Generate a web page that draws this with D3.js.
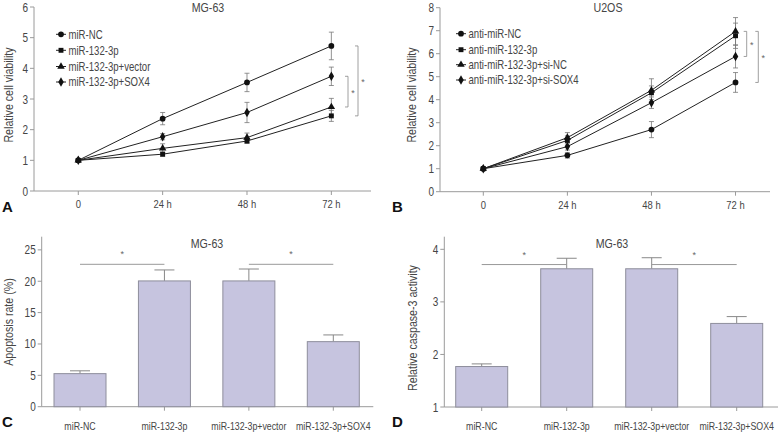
<!DOCTYPE html>
<html><head><meta charset="utf-8">
<script src="https://cdn.jsdelivr.net/npm/d3@7"></script>
<style>
body{margin:0;background:#fff;}
svg text{font-family:"Liberation Sans",Arial,sans-serif;}
</style></head>
<body><svg id="c" width="779" height="434"></svg>
<script>
// ---------- DATA ----------
const timeLabels = ["0","24 h","48 h","72 h"];
// Panel A (MG-63)
const seriesA = ["miR-NC","miR-132-3p","miR-132-3p+vector","miR-132-3p+SOX4"];
const valsA_NC     = [1.0, 2.36, 3.54, 4.73];
const errA_NC      = [0.04, 0.2, 0.3, 0.45];
const valsA_132    = [1.0, 1.2, 1.63, 2.45];
const errA_132     = [0.04, 0.07, 0.08, 0.18];
const valsA_vec    = [1.0, 1.39, 1.74, 2.74];
const errA_vec     = [0.04, 0.15, 0.15, 0.28];
const valsA_SOX4   = [1.0, 1.77, 2.56, 3.74];
const errA_SOX4    = [0.04, 0.1, 0.33, 0.3];
const yTicksA = [0,1,2,3,4,5,6];
// Panel B (U2OS)
const seriesB = ["anti-miR-NC","anti-miR-132-3p","anti-miR-132-3p+si-NC","anti-miR-132-3p+si-SOX4"];
const valsB_NC   = [1.0, 1.58, 2.7, 4.75];
const errB_NC    = [0.06, 0.12, 0.35, 0.43];
const valsB_132  = [1.0, 2.23, 4.3, 6.78];
const errB_132   = [0.06, 0.2, 0.3, 0.55];
const valsB_siNC = [1.0, 2.35, 4.41, 6.97];
const errB_siNC  = [0.06, 0.22, 0.5, 0.6];
const valsB_siS  = [1.0, 1.96, 3.87, 5.88];
const errB_siS   = [0.06, 0.15, 0.25, 0.5];
const yTicksB = [0,1,2,3,4,5,6,7,8];
// Panel C & D (MG-63 bars)
const barCats = ["miR-NC","miR-132-3p","miR-132-3p+vector","miR-132-3p+SOX4"];
const apoptosis    = [5.27, 20.05, 20.05, 10.37];
const apoptosisErr = [0.45, 1.75, 1.9, 1.07];
const yTicksC = [0,5,10,15,20,25];
const caspase    = [1.77, 3.63, 3.63, 2.59];
const caspaseErr = [0.05, 0.2, 0.21, 0.13];
const yTicksD = [1,2,3,4];

// ---------- DRAW ----------
const svg = d3.select("#c");
const axisCol = "#9a9a9a", textCol = "#454545", lineCol = "#222";
const SX = 0.8; // condensed look

// condensed text helper
function txt(g, x, y, t, size, anchor, rot){
  return g.append("text")
    .attr("transform",`translate(${x},${y})${rot?` rotate(${rot})`:""} scale(${SX},1)`)
    .attr("text-anchor",anchor||"start").attr("font-size",size).attr("fill",textCol).text(t);
}
function panelLetter(x, y, t){
  svg.append("text").attr("x",x).attr("y",y).text(t)
    .attr("font-size",15).attr("font-weight","bold").attr("fill","#111");
}
function yAxis(g, y, x0, ticks){
  g.append("line").attr("x1",x0).attr("x2",x0).attr("y1",y.range()[0]).attr("y2",y.range()[1])
    .attr("stroke",axisCol);
  ticks.forEach(t=>{
    g.append("line").attr("x1",x0-4).attr("x2",x0).attr("y1",y(t)).attr("y2",y(t)).attr("stroke",axisCol);
    txt(g, x0-6, y(t)+4.5, t, 12.5, "end");
  });
}
function yLabel(x, yc, t){
  txt(svg, x, yc, t, 13.3, "middle", -90);
}
function symbolFor(i){ return [d3.symbolCircle,d3.symbolSquare,d3.symbolTriangle,d3.symbolDiamond][i]; }
function symSize(i){ return [26,24,24,26][i]; }

function linePanel(cfg){
  const g = svg.append("g");
  const x = d3.scaleLinear().domain(cfg.xDom).range(cfg.xRange);
  const y = d3.scaleLinear().domain(cfg.yDom).range(cfg.yRange);
  g.append("line").attr("x1",cfg.xRange[0]).attr("x2",cfg.xRange[1]).attr("y1",cfg.yRange[0]).attr("y2",cfg.yRange[0]).attr("stroke",axisCol);
  timeLabels.forEach((t,i)=>{
    g.append("line").attr("x1",x(i)).attr("x2",x(i)).attr("y1",cfg.yRange[0]).attr("y2",cfg.yRange[0]+4).attr("stroke",axisCol);
    txt(g, x(i), cfg.yRange[0]+17, t, 11.8, "middle");
  });
  yAxis(g, y, cfg.xRange[0], cfg.yTicks);
  txt(g, cfg.titleX, 12, cfg.title, 13.3, "middle");
  const line = d3.line().x((d,i)=>x(i)).y(d=>y(d));
  cfg.series.forEach(s=>{
    s.v.forEach((v,i)=>{
      const e = s.e[i];
      g.append("line").attr("x1",x(i)).attr("x2",x(i)).attr("y1",y(v-e)).attr("y2",y(v+e)).attr("stroke","#777").attr("stroke-width",0.8);
      [v-e,v+e].forEach(w=>g.append("line").attr("x1",x(i)-2.5).attr("x2",x(i)+2.5).attr("y1",y(w)).attr("y2",y(w)).attr("stroke","#777").attr("stroke-width",0.8));
    });
  });
  cfg.series.forEach((s,si)=>{
    g.append("path").attr("d",line(s.v)).attr("fill","none").attr("stroke",lineCol).attr("stroke-width",1);
    s.v.forEach((v,i)=>{
      g.append("path").attr("d",d3.symbol().type(symbolFor(si)).size(symSize(si))())
        .attr("transform",`translate(${x(i)},${y(v)})`).attr("fill","#111");
    });
  });
  cfg.names.forEach((n,i)=>{
    const ly = cfg.legY[i];
    g.append("line").attr("x1",cfg.legX-5).attr("x2",cfg.legX+5).attr("y1",ly).attr("y2",ly).attr("stroke",lineCol);
    g.append("path").attr("d",d3.symbol().type(symbolFor(i)).size(symSize(i))())
      .attr("transform",`translate(${cfg.legX},${ly})`).attr("fill","#111");
    txt(g, cfg.legX+7.5, ly+4.3, n, 12, "start");
  });
  cfg.brackets.forEach(b=>{
    const y1=y(b.a), y2=y(b.b);
    g.append("path").attr("d",`M${b.x-3},${y1}H${b.x}V${y2}H${b.x-3}`).attr("fill","none").attr("stroke","#888").attr("stroke-width",0.8);
    g.append("text").attr("x",b.x+5).attr("y",(y1+y2)/2+4).attr("text-anchor","middle").attr("font-size",9).attr("fill","#666").text("*");
  });
}

linePanel({
  xDom:[-0.525,3.47], xRange:[34,371], yDom:[0,6], yRange:[191,7], yTicks:yTicksA,
  title:"MG-63", titleX:208,
  series:[{v:valsA_NC,e:errA_NC},{v:valsA_132,e:errA_132},{v:valsA_vec,e:errA_vec},{v:valsA_SOX4,e:errA_SOX4}],
  names:seriesA, legX:61, legY:[34.3,50.3,66.5,82],
  brackets:[{x:348,a:valsA_SOX4[3],b:valsA_vec[3]},{x:358,a:valsA_NC[3],b:valsA_132[3]}]
});
linePanel({
  xDom:[-0.515,3.41], xRange:[440,770], yDom:[0,8], yRange:[191.7,7.7], yTicks:yTicksB,
  title:"U2OS", titleX:608,
  series:[{v:valsB_NC,e:errB_NC},{v:valsB_132,e:errB_132},{v:valsB_siNC,e:errB_siNC},{v:valsB_siS,e:errB_siS}],
  names:seriesB, legX:461, legY:[33.7,49.7,64.7,80],
  brackets:[{x:746.7,a:valsB_siNC[3],b:valsB_siS[3]},{x:758.3,a:valsB_siNC[3],b:valsB_NC[3]}]
});
yLabel(13, 95, "Relative cell viability");
yLabel(416, 95, "Relative cell viability");
panelLetter(2, 212, "A");
panelLetter(392, 212, "B");

function barPanel(cfg){
  const g = svg.append("g");
  const x = d3.scalePoint().domain(barCats).range(cfg.cRange);
  const y = d3.scaleLinear().domain(cfg.yDom).range(cfg.yRange);
  const base = cfg.yRange[0];
  g.append("line").attr("x1",cfg.axX[0]).attr("x2",cfg.axX[1]).attr("y1",base).attr("y2",base).attr("stroke",axisCol);
  barCats.forEach(c=>{
    g.append("line").attr("x1",x(c)).attr("x2",x(c)).attr("y1",base).attr("y2",base+4).attr("stroke",axisCol);
    txt(g, x(c), base+23, c, 11, "middle");
  });
  yAxis(g, y, cfg.axX[0], cfg.yTicks);
  txt(g, cfg.titleX, 248, "MG-63", 13.3, "middle");
  cfg.vals.forEach((v,i)=>{
    const cx = x(barCats[i]), e = cfg.err[i];
    g.append("line").attr("x1",cx).attr("x2",cx).attr("y1",y(v)).attr("y2",y(v+e)).attr("stroke","#888");
    g.append("line").attr("x1",cx-10).attr("x2",cx+10).attr("y1",y(v+e)).attr("y2",y(v+e)).attr("stroke","#888");
    g.append("rect").attr("x",cx-cfg.bw/2).attr("width",cfg.bw).attr("y",y(v)).attr("height",base-y(v))
      .attr("fill","#c6c4df").attr("stroke","#8e8e9c").attr("stroke-width",1);
  });
  [[0,1],[2,3]].forEach(([a,b])=>{
    const x1=x(barCats[a]), x2=x(barCats[b]), yy=y(cfg.sig);
    g.append("line").attr("x1",x1).attr("x2",x2).attr("y1",yy).attr("y2",yy).attr("stroke","#999");
    g.append("text").attr("x",(x1+x2)/2).attr("y",yy-7).attr("text-anchor","middle").attr("font-size",9).attr("fill","#666").text("*");
  });
}
barPanel({cRange:[80,333.3], axX:[41.7,373.3], yDom:[0,27.1], yRange:[406.7,236.7], yTicks:yTicksC,
  vals:apoptosis, err:apoptosisErr, bw:52, sig:22.7, titleX:207});
barPanel({cRange:[481.7,736.7], axX:[444.3,778], yDom:[1,4.24], yRange:[407,236.7], yTicks:yTicksD,
  vals:caspase, err:caspaseErr, bw:52, sig:3.71, titleX:612});
yLabel(13, 322, "Apoptosis rate (%)");
yLabel(417, 328, "Relative caspase-3 activity");
panelLetter(2, 427, "C");
panelLetter(392, 427, "D");
</script></body></html>
